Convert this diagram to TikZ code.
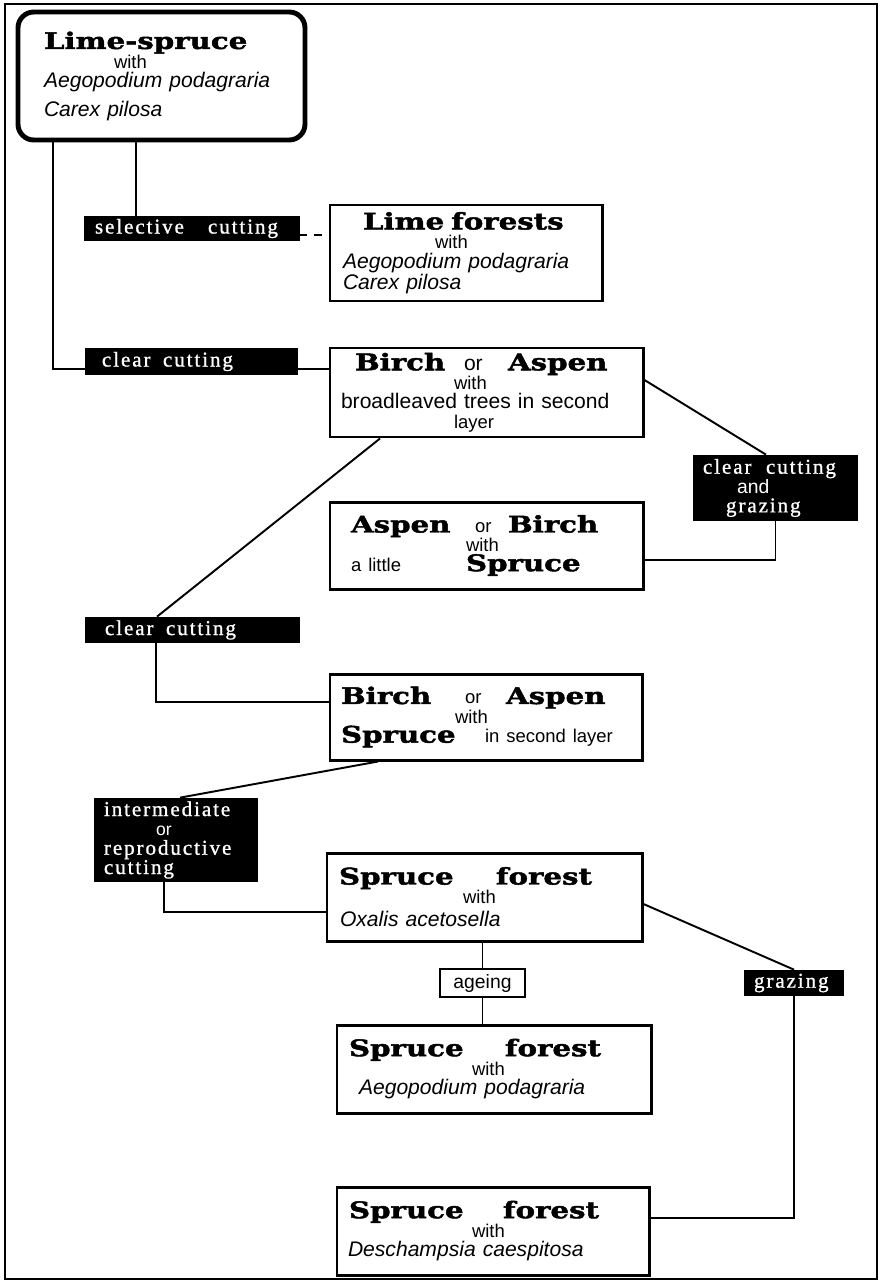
\documentclass[tikz,border=0pt]{standalone}
\usepackage{fontspec}
\setmainfont{Liberation Sans}
\newfontfamily\titlefont{DejaVu Serif Bold}[FakeStretch=1.28, FakeBold=2]
\newfontfamily\labfont{Liberation Serif}[LetterSpace=9, FakeBold=1]
\newcommand{\boldname}[1]{{\titlefont\fontsize{13}{13}\selectfont #1}}
\newcommand{\smalltxt}[1]{{\fontsize{10.5}{11}\selectfont #1}}
\newcommand{\withtxt}{\smalltxt{with}}

\begin{document}
\begin{tikzpicture}[
  vegbox/.style={rectangle, draw, line width=1.7pt, align=left,
    inner xsep=0.22cm, inner ysep=0pt, font=\fontsize{12}{11}\selectfont},
  limebox/.style={vegbox, rounded corners=9pt, line width=2.8pt, inner xsep=0.52cm},
  cutlab/.style={rectangle, fill=black, text=white, align=left,
    inner xsep=0.2cm, inner ysep=0pt, font=\labfont\fontsize{12}{11}\selectfont},
  agebox/.style={rectangle, draw, fill=white, line width=1.2pt, inner sep=0pt,
    font=\fontsize{11}{12}\selectfont},
  link/.style={line width=1.1pt}
]
  \useasboundingbox (0,0) rectangle (17.6,-25.66);
  \draw[line width=1.2pt] (0.10,-0.08) rectangle (17.54,-25.58);

  % forest types
  \node[limebox, minimum width=5.74cm, minimum height=2.56cm, text width=4.70cm] (limespruce) at (3.23,-1.52)
    {\boldname{Lime-spruce}\\
     \hspace*{1.40cm}\withtxt\\
     \textit{Aegopodium podagraria}\\[4pt]
     \textit{Carex pilosa}};
  \node[vegbox, minimum width=5.44cm, minimum height=1.92cm, text width=5.00cm] (limeforest) at (9.32,-5.06)
    {\hspace*{0.44cm}\boldname{Lime forests}\\
     \hspace*{1.88cm}\withtxt\\
     \hspace*{0.04cm}\textit{Aegopodium podagraria}\\
     \hspace*{0.04cm}\textit{Carex pilosa}};
  \node[vegbox, minimum width=6.26cm, minimum height=1.78cm, text width=5.82cm] (birchbroad) at (9.73,-7.85)
    {\hspace*{0.28cm}\makebox[2.18cm][l]{\boldname{Birch}}\makebox[0.88cm][l]{or}\boldname{Aspen}\\
     \hspace*{2.26cm}\withtxt\\
     broadleaved trees in second\\
     \hspace*{2.26cm}\smalltxt{layer}};
  \node[vegbox, minimum width=6.26cm, minimum height=1.74cm, text width=5.82cm] (aspenlittle) at (9.73,-10.91)
    {\hspace*{0.20cm}\makebox[2.48cm][l]{\boldname{Aspen}}\makebox[0.66cm][l]{\smalltxt{or}}\boldname{Birch}\\
     \hspace*{2.50cm}\withtxt\\
     \hspace*{0.20cm}\makebox[2.30cm][l]{\smalltxt{a little}}\boldname{Spruce}};
  \node[vegbox, minimum width=6.24cm, minimum height=1.72cm, text width=5.80cm] (birchspruce) at (9.72,-14.34)
    {\makebox[2.48cm][l]{\boldname{Birch}}\makebox[0.82cm][l]{\smalltxt{or}}\boldname{Aspen}\\
     \hspace*{2.28cm}\withtxt\\
     \makebox[2.88cm][l]{\boldname{Spruce}}\smalltxt{in second layer}};
  \node[vegbox, minimum width=6.30cm, minimum height=1.76cm, text width=5.86cm] (spruceoxalis) at (9.69,-17.94)
    {\hspace*{0.02cm}\makebox[3.14cm][l]{\boldname{Spruce}}\boldname{forest}\\
     \hspace*{2.50cm}\withtxt\\[2pt]
     \hspace*{0.04cm}\textit{Oxalis acetosella}};
  \node[vegbox, minimum width=6.28cm, minimum height=1.76cm, text width=5.84cm] (spruceaego) at (9.88,-21.38)
    {\hspace*{0.02cm}\makebox[3.12cm][l]{\boldname{Spruce}}\boldname{forest}\\
     \hspace*{2.48cm}\withtxt\\
     \hspace*{0.22cm}\textit{Aegopodium podagraria}};
  \node[vegbox, minimum width=6.24cm, minimum height=1.76cm, text width=5.80cm] (sprucedesch) at (9.86,-24.62)
    {\hspace*{0.02cm}\makebox[3.08cm][l]{\boldname{Spruce}}\boldname{forest}\\
     \hspace*{2.48cm}\withtxt\\
     \textit{Deschampsia caespitosa}};

  % treatments
  \node[cutlab, minimum width=4.32cm, minimum height=0.50cm, text width=3.92cm] (selcut) at (3.84,-4.57)
    {\hspace*{0.02cm}\makebox[2.26cm][l]{selective}cutting};
  \node[cutlab, minimum width=4.26cm, minimum height=0.54cm, text width=3.86cm] (clearcut1) at (3.83,-7.23)
    {\hspace*{0.14cm}\makebox[1.22cm][l]{clear}cutting};
  \node[cutlab, minimum width=3.30cm, minimum height=1.32cm, text width=2.90cm] (clrgraze) at (15.51,-9.76)
    {\makebox[1.26cm][l]{clear}cutting\\
     \hspace*{0.68cm}{\rmfamily\fontsize{11}{11}\selectfont and}\\
     \hspace*{0.46cm}grazing};
  \node[cutlab, minimum width=4.30cm, minimum height=0.52cm, text width=3.90cm] (clearcut2) at (3.85,-12.60)
    {\hspace*{0.20cm}\makebox[1.22cm][l]{clear}cutting};
  \node[cutlab, minimum width=3.28cm, minimum height=1.68cm, text width=2.88cm] (intercut) at (3.52,-16.80)
    {intermediate\\
     \hspace*{1.04cm}{\rmfamily\fontsize{10}{11}\selectfont or}\\
     reproductive\\
     cutting};
  \node[cutlab, minimum width=2.00cm, minimum height=0.52cm, text width=1.60cm] (grazing) at (15.88,-19.66)
    {grazing};
  \node[agebox, minimum width=1.70cm, minimum height=0.56cm] (ageing) at (9.65,-19.66) {ageing};

  % connections
  \draw[link] ([xshift=-0.51cm]limespruce.south) -- ([xshift=-0.51cm]limespruce.south |- selcut.north);
  \draw[link] ([xshift=-2.17cm]limespruce.south) |- ([yshift=-0.15cm]clearcut1.west);
  \draw[link, dash pattern=on 4.5pt off 4.5pt, dash phase=1pt] ([yshift=-0.13cm]selcut.east) -- ([yshift=-0.13cm]selcut.east -| limeforest.west);
  \draw[link] ([yshift=-0.15cm]clearcut1.east) -- ([yshift=-0.15cm]clearcut1.east -| birchbroad.west);
  \draw[link] ([yshift=0.25cm]birchbroad.east) -- ([xshift=-0.19cm]clrgraze.north);
  \draw[link] (clrgraze.south) |- ([yshift=-0.29cm]aspenlittle.east);
  \draw[link] ([xshift=-2.13cm]birchbroad.south) -- ([xshift=-0.71cm]clearcut2.north);
  \draw[link] ([xshift=-0.73cm]clearcut2.south) |- ([yshift=0.30cm]birchspruce.west);
  \draw[link] ([xshift=-2.16cm]birchspruce.south) -- ([xshift=0.08cm]intercut.north);
  \draw[link] ([xshift=-0.24cm]intercut.south) |- ([yshift=-0.30cm]spruceoxalis.west);
  \draw[link] (spruceoxalis.south -| ageing.north) -- (ageing.north);
  \draw[link] (ageing.south) -- (ageing.south |- spruceaego.north);
  \draw[link] ([yshift=-0.14cm]spruceoxalis.east) -- (grazing.north);
  \draw[link] (grazing.south) |- ([yshift=0.26cm]sprucedesch.east);
\end{tikzpicture}
\end{document}
